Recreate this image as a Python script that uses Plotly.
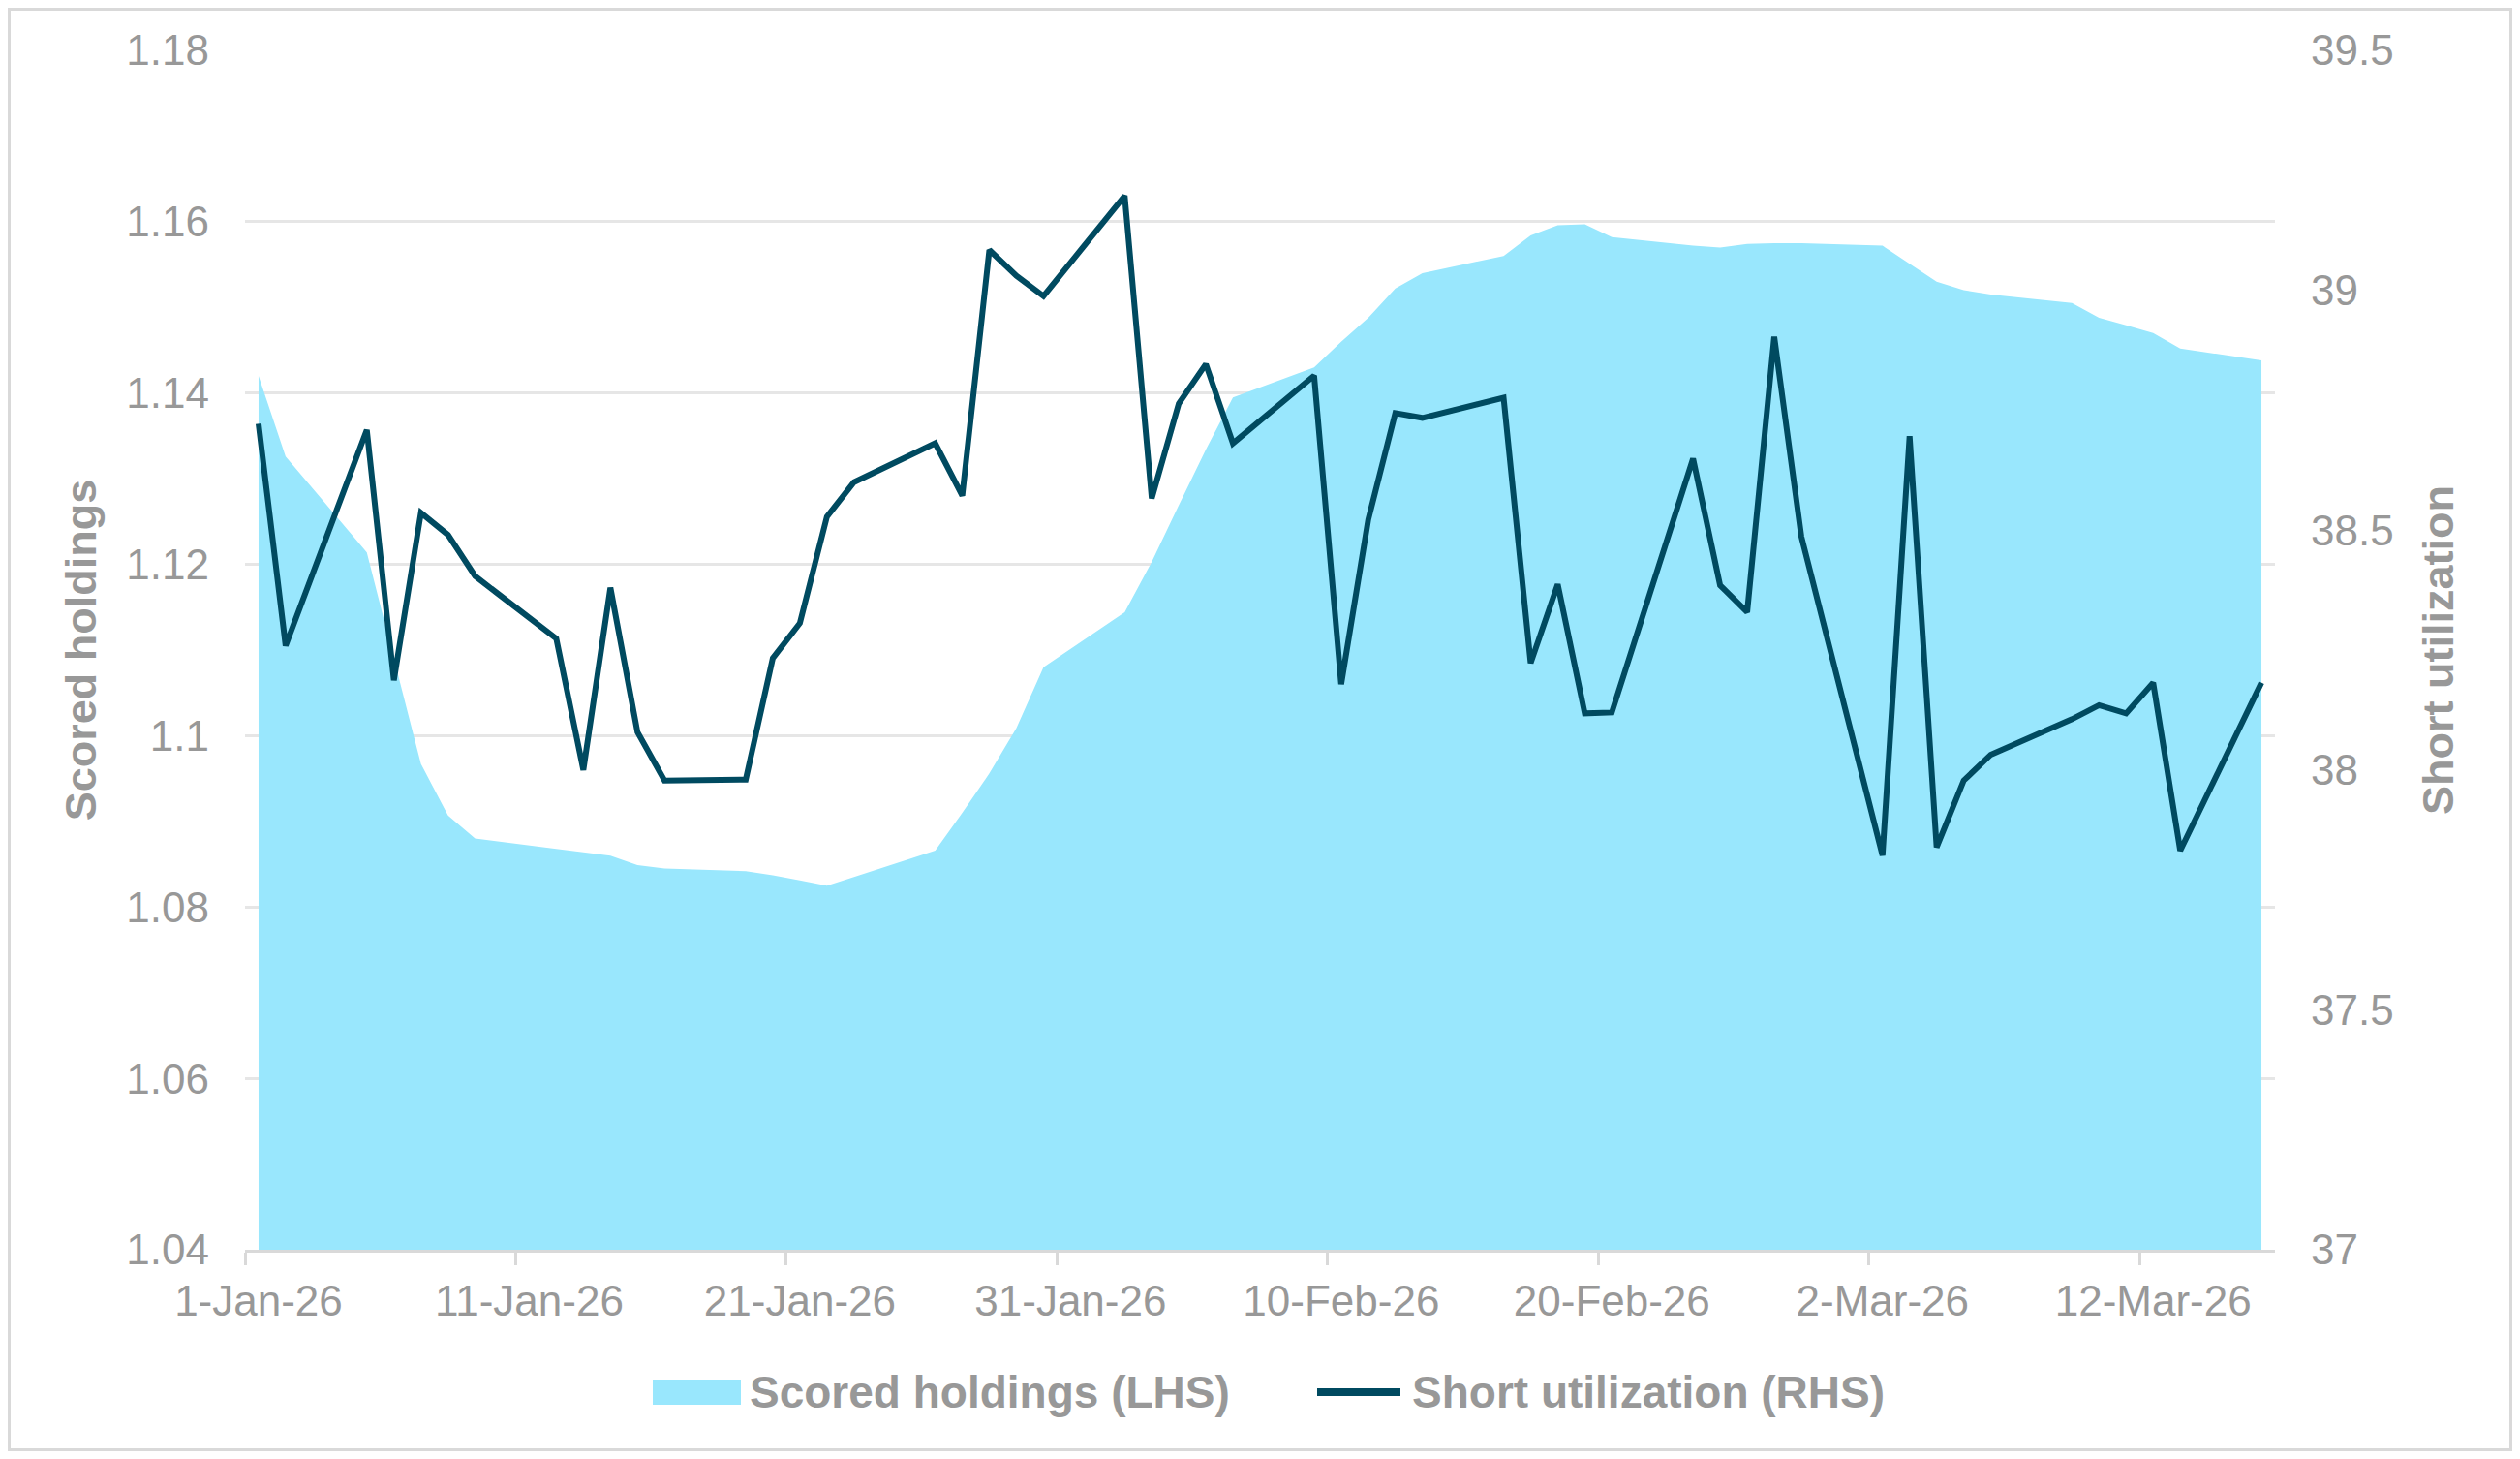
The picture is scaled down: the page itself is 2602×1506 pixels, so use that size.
import plotly.graph_objects as go

# weekday observations, 1-Jan-26 .. 16-Mar-26
dates = [
    "2026-01-01", "2026-01-02",
    "2026-01-05", "2026-01-06", "2026-01-07", "2026-01-08", "2026-01-09",
    "2026-01-12", "2026-01-13", "2026-01-14", "2026-01-15", "2026-01-16",
    "2026-01-19", "2026-01-20", "2026-01-21", "2026-01-22", "2026-01-23",
    "2026-01-26", "2026-01-27", "2026-01-28", "2026-01-29", "2026-01-30",
    "2026-02-02", "2026-02-03", "2026-02-04", "2026-02-05", "2026-02-06",
    "2026-02-09", "2026-02-10", "2026-02-11", "2026-02-12", "2026-02-13",
    "2026-02-16", "2026-02-17", "2026-02-18", "2026-02-19", "2026-02-20",
    "2026-02-23", "2026-02-24", "2026-02-25", "2026-02-26", "2026-02-27",
    "2026-03-02", "2026-03-03", "2026-03-04", "2026-03-05", "2026-03-06",
    "2026-03-09", "2026-03-10", "2026-03-11", "2026-03-12", "2026-03-13",
    "2026-03-16",
]

scored_holdings = [
    1.1420, 1.1326,
    1.1214, 1.1090, 1.0967, 1.0907, 1.0880,
    1.0868, 1.0864, 1.0860, 1.0849, 1.0845,
    1.0842, 1.0837, 1.0831, 1.0825, 1.0835,
    1.0866, 1.0910, 1.0956, 1.1009, 1.1080,
    1.1144, 1.1203, 1.1269, 1.1334, 1.1395,
    1.1430, 1.1460, 1.1488, 1.1522, 1.1540,
    1.1560, 1.1584, 1.1596, 1.1597, 1.1582,
    1.1572, 1.1570, 1.1574, 1.1575, 1.1575,
    1.1572, 1.1551, 1.1530, 1.1520, 1.1515,
    1.1505, 1.1488, 1.1479, 1.1470, 1.1452,
    1.1438,
]

short_utilization = [
    38.722, 38.259,
    38.709, 38.187, 38.536, 38.490, 38.404,
    38.274, 38.000, 38.380, 38.079, 37.978,
    37.980, 38.233, 38.306, 38.528, 38.600,
    38.681, 38.572, 39.084, 39.030, 38.988,
    39.197, 38.566, 38.764, 38.846, 38.681,
    38.822, 38.179, 38.522, 38.744, 38.734,
    38.776, 38.223, 38.387, 38.118, 38.120,
    38.649, 38.385, 38.329, 38.903, 38.487,
    37.822, 38.696, 37.839, 37.978, 38.032,
    38.106, 38.135, 38.118, 38.182, 37.832,
    38.182,
]

tick_dates = ["2026-01-01", "2026-01-11", "2026-01-21", "2026-01-31",
              "2026-02-10", "2026-02-20", "2026-03-02", "2026-03-12"]
tick_labels = ["1-Jan-26", "11-Jan-26", "21-Jan-26", "31-Jan-26",
               "10-Feb-26", "20-Feb-26", "2-Mar-26", "12-Mar-26"]
# Excel puts the tick marks on day boundaries
tick_marks = ["2025-12-31 12:00", "2026-01-10 12:00", "2026-01-20 12:00",
              "2026-01-30 12:00", "2026-02-09 12:00", "2026-02-19 12:00",
              "2026-03-01 12:00", "2026-03-11 12:00"]

lhs_ticks = [1.04, 1.06, 1.08, 1.10, 1.12, 1.14, 1.16, 1.18]
lhs_labels = ["1.04", "1.06", "1.08", "1.1", "1.12", "1.14", "1.16", "1.18"]
rhs_ticks = [37, 37.5, 38, 38.5, 39, 39.5]
rhs_labels = ["37", "37.5", "38", "38.5", "39", "39.5"]

FILL = "#99E7FD"
LINE = "#004A60"
GREY = "#989898"
AXIS = "#D9D9D9"
GRID = "#E6E6E6"
FONT = "Liberation Sans, Arial, sans-serif"

# the page body has an 8px margin, so the figure is shrunk to fit the window
PAGE = 8
W, H = 2602 - 2 * PAGE, 1506 - 2 * PAGE
L, R, T, B = 245, 245, 44, 208
PW, PH = W - L - R, H - T - B


# helpers taking window pixel positions
def px(x):
    return (x - PAGE - L) / PW


def py(y):
    return (PAGE + H - B - y) / PH


fig = go.Figure()

fig.add_trace(go.Scatter(
    x=dates, y=scored_holdings,
    name="Scored holdings (LHS)",
    mode="none", fill="tozeroy", fillcolor=FILL,
    hovertemplate="%{x|%d-%b-%y}<br>%{y:.4f}<extra></extra>",
))

fig.add_trace(go.Scatter(
    x=dates, y=short_utilization,
    name="Short utilization (RHS)",
    mode="lines", line=dict(color=LINE, width=6),
    yaxis="y2",
    hovertemplate="%{x|%d-%b-%y}<br>%{y:.2f}<extra></extra>",
))

# legend drawn by hand so the keys get Excel's proportions
shapes = [
    dict(type="rect", xref="paper", yref="paper",
         x0=px(674), x1=px(765), y0=py(1450), y1=py(1424),
         fillcolor=FILL, line=dict(width=0)),
    dict(type="line", xref="paper", yref="paper",
         x0=px(1360), x1=px(1446), y0=py(1437), y1=py(1437),
         line=dict(color=LINE, width=8)),
    # outer frame
    dict(type="rect", xref="paper", yref="paper",
         x0=px(PAGE + 1.5), x1=px(PAGE + W - 1.5),
         y0=py(PAGE + H - 1.5), y1=py(PAGE + 1.5),
         line=dict(color=AXIS, width=3), fillcolor="rgba(0,0,0,0)"),
]

annotations = [
    dict(text="Scored holdings (LHS)", xref="paper", yref="paper",
         x=px(772), y=py(1437), xanchor="left", yanchor="middle",
         showarrow=False, font=dict(size=46, color=GREY, family=FONT, weight="bold")),
    dict(text="Short utilization (RHS)", xref="paper", yref="paper",
         x=px(1456), y=py(1437), xanchor="left", yanchor="middle",
         showarrow=False, font=dict(size=46, color=GREY, family=FONT, weight="bold")),
]

fig.update_layout(
    template="none",
    width=W, height=H,
    margin=dict(l=L, r=R, t=T, b=B, autoexpand=False),
    paper_bgcolor="white", plot_bgcolor="white",
    font=dict(family=FONT, color=GREY, size=44),
    showlegend=False,
    shapes=shapes,
    annotations=annotations,
    xaxis=dict(
        type="date",
        range=["2025-12-31 12:00", "2026-03-16 12:00"],
        tickmode="array", tickvals=tick_dates, ticktext=tick_labels,
        ticks="", ticklabelstandoff=12,
        tickfont=dict(size=44, color=GREY, family=FONT),
        minor=dict(tickmode="array", tickvals=tick_marks, ticks="outside",
                   ticklen=13, tickwidth=2.5, tickcolor=AXIS, showgrid=False),
        showline=True, linecolor=AXIS, linewidth=2.5,
        showgrid=False, zeroline=False, automargin=False,
    ),
    yaxis=dict(
        range=[1.04, 1.18],
        tickmode="array", tickvals=lhs_ticks, ticktext=lhs_labels,
        ticks="", ticklabelstandoff=36,
        tickfont=dict(size=44, color=GREY, family=FONT),
        showgrid=True, gridcolor=GRID, gridwidth=2.5,
        showline=False, zeroline=False, automargin=False,
        title=dict(text="Scored holdings", standoff=16,
                   font=dict(size=45, color=GREY, family=FONT, weight="bold")),
    ),
    yaxis2=dict(
        overlaying="y", side="right",
        range=[37, 39.5],
        tickmode="array", tickvals=rhs_ticks, ticktext=rhs_labels,
        ticks="", ticklabelstandoff=36,
        tickfont=dict(size=44, color=GREY, family=FONT),
        showgrid=False, showline=False, zeroline=False, automargin=False,
        title=dict(text="Short utilization", standoff=30,
                   font=dict(size=45, color=GREY, family=FONT, weight="bold")),
    ),
)

fig.write_html("out.html")
